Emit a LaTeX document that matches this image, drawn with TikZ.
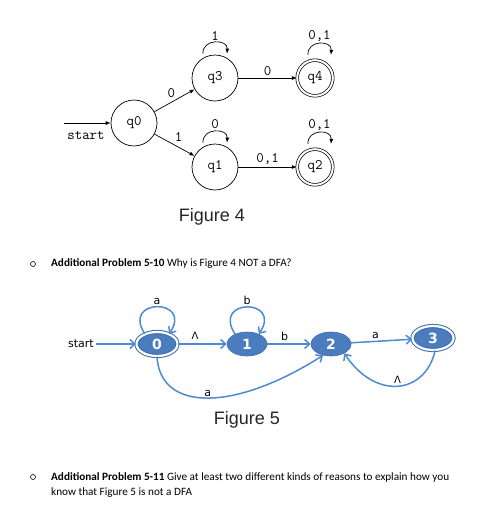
\documentclass[tikz,border=0pt]{standalone}
\usepackage{fontspec}
\setmainfont{Liberation Sans}
\newfontfamily\bodyfont{Carlito}
\newfontfamily\dvfont{DejaVu Sans}
\usetikzlibrary{arrows.meta,shapes.geometric}
\definecolor{nodeblue}{HTML}{4A7CBE}
\definecolor{ringblue}{HTML}{3D6DAE}
\definecolor{edgeblue}{HTML}{4C8BD4}
\begin{document}
\begin{tikzpicture}[x=1pt,y=-1pt,
  st4/.style={circle,draw,line width=0.7pt,minimum size=46pt,inner sep=0pt,font=\ttfamily\fontsize{14.5}{14.5}\selectfont},
  acc4/.style={circle,draw,line width=0.7pt,double,double distance=2pt,minimum size=35.6pt,inner sep=0pt,font=\ttfamily\fontsize{14.5}{14.5}\selectfont},
  lbl4/.style={font=\ttfamily\fontsize{14.5}{14.5}\selectfont,inner sep=2pt},
  arr4/.style={line width=0.7pt,-{Latex[length=5pt,width=4pt]}},
  st5/.style={ellipse,fill=nodeblue,draw=ringblue,line width=0.6pt,minimum width=40pt,minimum height=24pt,inner sep=0pt,text=white,font=\dvfont\bfseries\fontsize{14}{14}\selectfont},
  acc5/.style={ellipse,fill=nodeblue,draw=ringblue,line width=1pt,double=white,double distance=2.2pt,minimum width=41pt,minimum height=24pt,inner sep=0pt,text=white,font=\dvfont\bfseries\fontsize{14}{14}\selectfont},
  lbl5/.style={font=\dvfont\fontsize{11}{11}\selectfont,inner sep=1.5pt},
  caret/.style={font=\dvfont\fontsize{10}{10}\selectfont,inner sep=1.5pt},
  arr5/.style={draw=edgeblue,line width=1.5pt,-{Straight Barb[length=5pt,width=9pt]}},
  figcap/.style={font=\fontsize{18}{18}\selectfont,text=black!85},
  bodytxt/.style={font=\bodyfont\fontsize{11.2}{13}\selectfont,anchor=west,inner sep=0pt},
  bulletmark/.style={circle,draw,line width=0.6pt,minimum size=5pt,inner sep=0pt}
]
\useasboundingbox (0,0) rectangle (500,507);
\fill[white] (0,0) rectangle (500,507);

% ---------- Figure 4 ----------
\node[st4] (q0) at (134,123) {q0};
\node[st4] (q3) at (215,78) {q3};
\node[acc4] (q4) at (315,78) {q4};
\node[st4] (q1) at (215,167) {q1};
\node[acc4] (q2) at (315,167) {q2};
\coordinate (s4) at (64,123);
\node[lbl4] (startlbl4) at (86,136) {start};

\draw[arr4] (s4) -- (q0);
\draw[arr4] (q0) -- node[lbl4,anchor=south east,pos=0.5,xshift=3pt] {0} (q3);
\draw[arr4] (q0) -- node[lbl4,anchor=south west,pos=0.45] {1} (q1);
\draw[arr4] (q3) -- node[lbl4,above] {0} (q4);
\draw[arr4] (q1) -- node[lbl4,above] {0,1} (q2);

\draw[arr4] ([xshift=-12pt,yshift=1pt]q3.north) .. controls +(-1,-15) and +(1,-15) .. ([xshift=12pt,yshift=1pt]q3.north)
  node[lbl4,pos=0.5,above] {1};
\draw[arr4] ([xshift=-12pt,yshift=1pt]q1.north) .. controls +(-1,-15) and +(1,-15) .. ([xshift=12pt,yshift=1pt]q1.north)
  node[lbl4,pos=0.5,above] {0};
\draw[arr4] ([xshift=-7pt,yshift=5pt]q4.north) .. controls +(-1,-15) and +(1,-15) .. ([xshift=16pt,yshift=5pt]q4.north)
  node[lbl4,pos=0.5,above] {0,1};
\draw[arr4] ([xshift=-7pt,yshift=5pt]q2.north) .. controls +(-1,-15) and +(1,-15) .. ([xshift=16pt,yshift=5pt]q2.north)
  node[lbl4,pos=0.5,above] {0,1};

\node[figcap] (cap4) at (212,217) {Figure 4};

% ---------- Question 1 ----------
\node[bulletmark] (b1) at (33,264) {};
\node[bodytxt] (t1) at (51,264) {\textbf{Additional Problem 5-10} Why is Figure 4 NOT a DFA?};

% ---------- Figure 5 ----------
\node[acc5] (n0) at (157,344) {0};
\node[st5] (n1) at (247,344) {1};
\node[st5] (n2) at (331,344) {2};
\node[acc5] (n3) at (433,338) {3};
\node[lbl5] (startlbl5) at (81,344) {start};

\draw[arr5] (startlbl5.east) -- (n0);
\draw[arr5] (n0.140) .. controls +(-24,-36) and +(24,-36) .. (n0.40)
  node[lbl5,pos=0.5,above] {a};
\draw[arr5] (n1.140) .. controls +(-24,-36) and +(24,-36) .. (n1.40)
  node[lbl5,pos=0.5,above] {b};
\draw[arr5] (n0) -- node[caret,pos=0.35,above=2pt] {Λ} (n1);
\draw[arr5] (n1) -- node[lbl5,pos=0.4,above=1pt] {b} (n2);
\draw[arr5] (n2) -- node[lbl5,pos=0.4,above=0pt] {a} (n3);
\draw[arr5] (n0.south) .. controls (160,412) and (234,412) .. (n2.235)
  node[lbl5,pos=0.5,above=-1pt] {a};
\draw[arr5] (n3.280) .. controls (425,395) and (375,400) .. (n2.325)
  node[caret,pos=0.5,above=0pt] {Λ};

\node[figcap] (cap5) at (247,420) {Figure 5};

% ---------- Question 2 ----------
\node[bulletmark] (b2) at (33,477) {};
\node[bodytxt] (t2) at (51,477) {\textbf{Additional Problem 5-11} Give at least two different kinds of reasons to explain how you};
\node[bodytxt] (t3) at (51,493) {know that Figure 5 is not a DFA};
\end{tikzpicture}
\end{document}
